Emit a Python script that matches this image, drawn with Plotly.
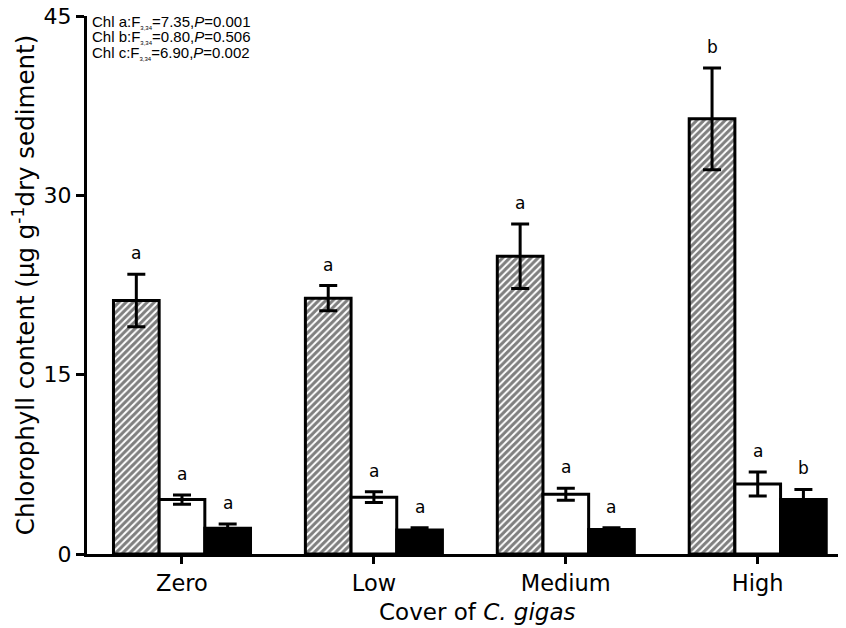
import plotly.graph_objects as go

categories = ["Zero", "Low", "Medium", "High"]
chl_a = [21.2, 21.4, 24.9, 36.4]
chl_a_err = [2.2, 1.05, 2.7, 4.25]
chl_b = [4.55, 4.75, 5.0, 5.85]
chl_b_err = [0.38, 0.45, 0.5, 1.0]
chl_c = [2.15, 2.0, 2.05, 4.55]
chl_c_err = [0.36, 0.2, 0.15, 0.85]
letters_a = ["a", "a", "a", "b"]
letters_b = ["a", "a", "a", "a"]
letters_c = ["a", "a", "a", "b"]
y_ticks = [0, 15, 30, 45]
stats_lines = [
    "Chl a:F<sub><span style='font-size:6px'>3,34</span></sub>=7.35,<i>P</i>=0.001",
    "Chl b:F<sub><span style='font-size:6px'>3,34</span></sub>=0.80,<i>P</i>=0.506",
    "Chl c:F<sub><span style='font-size:6px'>3,34</span></sub>=6.90,<i>P</i>=0.002",
]
x_title = "Cover of <i>C. gigas</i>"
y_title = "Chlorophyll content (μg g<sup>-1</sup>dry sediment)"

series = [
    ("Chl a", chl_a, chl_a_err, letters_a, "hatch"),
    ("Chl b", chl_b, chl_b_err, letters_b, "white"),
    ("Chl c", chl_c, chl_c_err, letters_c, "black"),
]

bar_w = 0.714 / 3
idx = list(range(len(categories)))

fig = go.Figure()
for k, (name, vals, errs, lets, style) in enumerate(series):
    xs = [i + (k - 1) * bar_w for i in idx]
    if style == "hatch":
        marker = dict(color="white", line=dict(color="black", width=3),
                      pattern=dict(shape="/", fgcolor="black", bgcolor="white",
                                   size=5, solidity=0.6, fillmode="overlay"))
    elif style == "white":
        marker = dict(color="white", line=dict(color="black", width=3))
    else:
        marker = dict(color="black", line=dict(color="black", width=3))
    fig.add_trace(go.Bar(
        x=xs, y=vals, width=bar_w, name=name, marker=marker,
        error_y=dict(type="data", array=errs, visible=True, color="black",
                     thickness=3, width=9),
        showlegend=False,
    ))
    for x, v, e, t in zip(xs, vals, errs, lets):
        fig.add_annotation(
            x=x, y=v + e, xref="x", yref="y", text=t, showarrow=False,
            yanchor="bottom", yshift=9,
            font=dict(family="DejaVu Sans", size=17, color="black"),
        )

fig.update_layout(
    width=838, height=620,
    margin=dict(l=79, r=0, t=8, b=74, autoexpand=False),
    plot_bgcolor="white", paper_bgcolor="white",
    font=dict(family="DejaVu Sans", color="black"),
    showlegend=False,
)
fig.update_xaxes(
    range=[-0.495, 3.46], tickvals=idx, ticktext=categories,
    showline=True, linecolor="black", linewidth=3,
    ticks="outside", ticklen=7, tickwidth=3, tickcolor="black",
    ticklabelstandoff=0, ticklabeloverflow="allow",
    tickfont=dict(size=22.5), showgrid=False, zeroline=False, automargin=False,
)
fig.update_yaxes(
    range=[0, 45], tickvals=y_ticks,
    showline=True, linecolor="black", linewidth=3,
    ticks="outside", ticklen=8, tickwidth=3, tickcolor="black",
    ticklabeloverflow="allow",
    tickfont=dict(size=22), showgrid=False, zeroline=False, automargin=False,
    title=dict(text=y_title, font=dict(size=24.5)),
)

fig.add_annotation(
    xref="paper", yref="paper", x=0.514, y=0, xanchor="center", yanchor="middle",
    yshift=-58, showarrow=False, text=x_title,
    font=dict(family="DejaVu Sans", size=23, color="black"),
)

for j, line in enumerate(stats_lines):
    fig.add_annotation(
        xref="paper", yref="paper", x=0.004, y=1.0, xanchor="left", yanchor="middle",
        align="left", showarrow=False, yshift=-5.5 - 15.5 * j,
        font=dict(family="Liberation Sans", size=15, color="black"),
        text=line,
    )

fig.write_html("out.html")
